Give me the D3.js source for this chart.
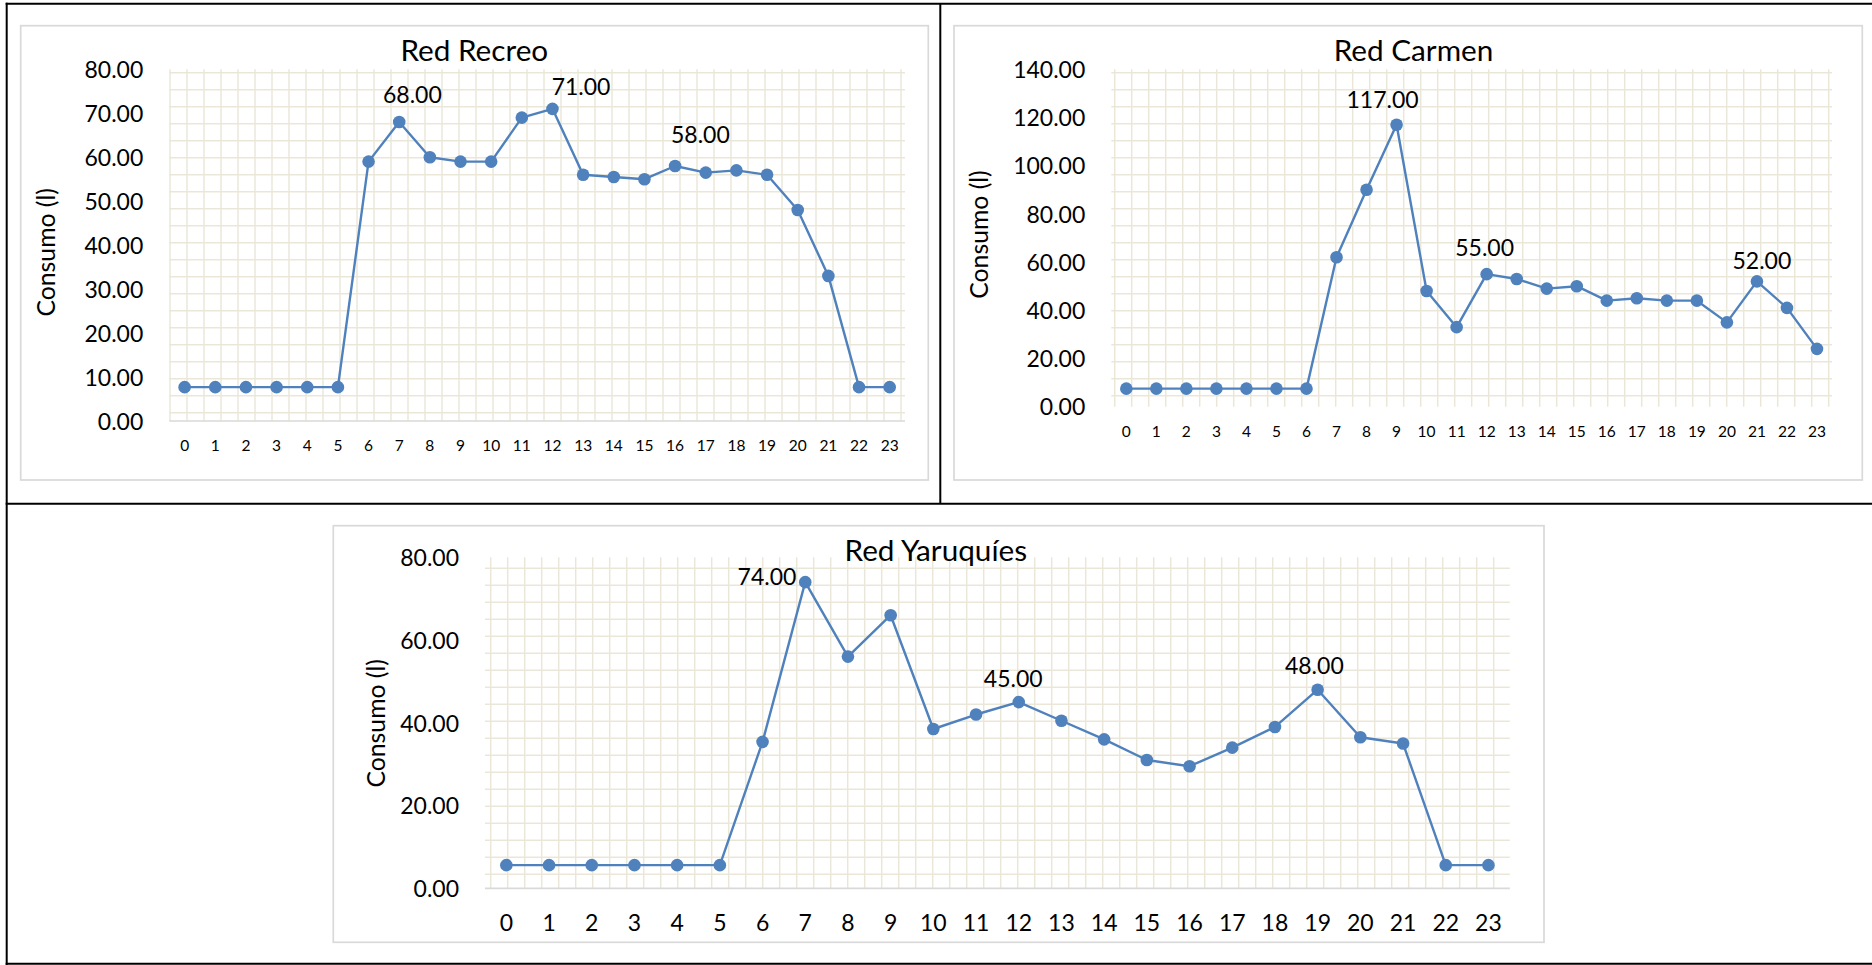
<!DOCTYPE html>
<html>
<head>
<meta charset="utf-8">
<script src="https://cdn.jsdelivr.net/npm/d3@7"></script>
<style>
  html, body { margin: 0; padding: 0; background: #fff; }
  svg { display: block; }
</style>
</head>
<body>
<svg id="page" width="1872" height="965"></svg>
<script>
// Hour of the day (categories shared by the three networks)
const hours = ["0","1","2","3","4","5","6","7","8","9","10","11","12","13","14","15","16","17","18","19","20","21","22","23"];

// Hourly consumption (l) per network
const recreoValues = [7.7,7.7,7.7,7.7,7.7,7.7,59,68,60,59,59,69,71,56,55.5,55,58,56.5,57,56,48,33,7.7,7.7];
const carmenValues = [7.5,7.5,7.5,7.5,7.5,7.5,7.5,62,90,117,48,33,55,53,49,50,44,45,44,44,35,52,41,24];
const yaruquiesValues = [5.6,5.6,5.6,5.6,5.6,5.6,35.4,74,56,66,38.5,42,45,40.5,36,31,29.5,34,39,48,36.5,35,5.6,5.6];

// Value-axis ticks
const recreoTicks = [0,10,20,30,40,50,60,70,80];
const carmenTicks = [0,20,40,60,80,100,120,140];
const yaruquiesTicks = [0,20,40,60,80];

// Hours whose value is printed above the point
const recreoLabelled = [7, 12, 16];
const carmenLabelled = [9, 12, 21];
const yaruquiesLabelled = [7, 12, 19];

const chartTitles = ["Red Recreo", "Red Carmen", "Red Yaruquíes"];
const yTitle = "Consumo (l)";

// ---------- layout / styling ----------
const FONT = "Lato, 'Open Sans', sans-serif";
const LINE = "#4f81bd";
const GRID = "#ebe7d8";
const GRID_STEP = 17;
const Y_TITLE_LENGTH = 128.5;   // rotated axis title is sized to this length

const charts = [
  {
    title: chartTitles[0], values: recreoValues, ticks: recreoTicks, labelled: recreoLabelled,
    box: [20.7, 25.7, 928.3, 480],
    plot: { x0: 169.3, x1: 905, y0: 69.3, y1: 421 },
    grid: { dx: 0.7, dy: 3.4 },
    baseline: true,
    titleAt: [474.3, 60.7],
    yTitleAt: [46.7, 252.3],
    xFont: 15.5, xLabelY: 29.7,
    labelOffsets: [[13.2, -18.7], [28.6, -14.3], [25.3, -22.7]]
  },
  {
    title: chartTitles[1], values: carmenValues, ticks: carmenTicks, labelled: carmenLabelled,
    box: [954, 25.7, 1862.3, 480],
    plot: { x0: 1111.3, x1: 1832, y0: 69.3, y1: 406.7 },
    grid: { dx: 3.4, dy: 3.4 },
    baseline: false,
    titleAt: [1413.5, 60.7],
    yTitleAt: [979, 234.5],
    xFont: 15.5, xLabelY: 30,
    labelOffsets: [[-14, -17], [-2, -18], [5, -12]]
  },
  {
    title: chartTitles[2], values: yaruquiesValues, ticks: yaruquiesTicks, labelled: yaruquiesLabelled,
    box: [333.3, 525.7, 1544, 942.3],
    plot: { x0: 485, x1: 1509.8, y0: 557.3, y1: 888.3 },
    grid: { dx: 5.7, dy: 11 },
    baseline: true,
    titleAt: [935.8, 560.7],
    yTitleAt: [376.7, 723.3],
    xFont: 23, xLabelY: 42.4,
    labelOffsets: [[-38.3, 2.7], [-5.5, -15.6], [-3.3, -16]]
  }
];

const svg = d3.select("#page");

// Table frame around the three charts
const frame = svg.append("g").attr("stroke", "#000").attr("stroke-width", 2).attr("fill", "none");
frame.append("line").attr("x1", 5.7).attr("x2", 1872).attr("y1", 3.7).attr("y2", 3.7);
frame.append("line").attr("x1", 6.7).attr("x2", 6.7).attr("y1", 2.7).attr("y2", 965);
frame.append("line").attr("x1", 940.3).attr("x2", 940.3).attr("y1", 3.7).attr("y2", 503.8);
frame.append("line").attr("x1", 5.7).attr("x2", 1872).attr("y1", 503.8).attr("y2", 503.8);
frame.append("line").attr("x1", 5.7).attr("x2", 1872).attr("y1", 963.8).attr("y2", 963.8);

function drawChart(cfg) {
  const g = svg.append("g");
  const [bx0, by0, bx1, by1] = cfg.box;
  const p = cfg.plot;

  // chart area
  g.append("rect")
    .attr("x", bx0).attr("y", by0).attr("width", bx1 - bx0).attr("height", by1 - by0)
    .attr("fill", "#fff").attr("stroke", "#d9d9d9").attr("stroke-width", 1.7);

  const x = d3.scaleBand().domain(hours).range([p.x0, p.x1]);
  const y = d3.scaleLinear().domain([0, d3.max(cfg.ticks)]).range([p.y1, p.y0]);
  const cx = i => x(hours[i]) + x.bandwidth() / 2;

  // grid-paper texture of the plot area
  const grid = g.append("g").attr("stroke", GRID).attr("stroke-width", 1.5);
  grid.selectAll("line.v").data(d3.range(p.x0 + cfg.grid.dx, p.x1, GRID_STEP)).join("line")
    .attr("class", "v").attr("x1", d => d).attr("x2", d => d).attr("y1", p.y0).attr("y2", p.y1);
  grid.selectAll("line.h").data(d3.range(p.y0 + cfg.grid.dy, p.y1, GRID_STEP)).join("line")
    .attr("class", "h").attr("x1", p.x0).attr("x2", p.x1).attr("y1", d => d).attr("y2", d => d);

  if (cfg.baseline) {
    g.append("line").attr("x1", p.x0).attr("x2", p.x1).attr("y1", y(0)).attr("y2", y(0))
      .attr("stroke", "#d9d9d9").attr("stroke-width", 1.7);
  }

  // value axis
  const ya = g.append("g").attr("transform", `translate(${p.x0},0)`)
    .call(d3.axisLeft(y).tickValues(cfg.ticks).tickSize(0).tickPadding(26).tickFormat(d3.format(".2f")));
  ya.select(".domain").remove();
  ya.attr("font-family", FONT).attr("font-size", 23);
  ya.selectAll("text").attr("dy", "0.36em").attr("fill", "#000");

  // hour axis
  const xa = g.append("g").attr("transform", `translate(0,${p.y1})`)
    .call(d3.axisBottom(x).tickSize(0));
  xa.select(".domain").remove();
  xa.attr("font-family", FONT).attr("font-size", cfg.xFont);
  xa.selectAll("text").attr("y", cfg.xLabelY).attr("dy", 0).attr("fill", "#000");

  // axis title, scaled to its target length
  const yt = g.append("text")
    .attr("transform", `translate(${cfg.yTitleAt[0]},${cfg.yTitleAt[1]}) rotate(-90)`)
    .attr("text-anchor", "middle").attr("dy", "0.35em")
    .attr("font-family", FONT).attr("font-size", 24).attr("fill", "#000")
    .text(yTitle);
  const len = yt.node().getComputedTextLength();
  if (len > 0) yt.attr("font-size", 24 * Y_TITLE_LENGTH / len);

  // chart title
  g.append("text")
    .attr("x", cfg.titleAt[0]).attr("y", cfg.titleAt[1])
    .attr("text-anchor", "middle")
    .attr("font-family", FONT).attr("font-size", 29.7).attr("fill", "#000")
    .text(cfg.title);

  // series line and markers
  const line = d3.line().x((d, i) => cx(i)).y(d => y(d));
  g.append("path").datum(cfg.values)
    .attr("d", line).attr("fill", "none").attr("stroke", LINE)
    .attr("stroke-width", 2.4).attr("stroke-linejoin", "round");
  g.selectAll("circle.pt").data(cfg.values).join("circle")
    .attr("class", "pt")
    .attr("cx", (d, i) => cx(i)).attr("cy", d => y(d)).attr("r", 6.3)
    .attr("fill", LINE);

  // value labels
  g.selectAll("text.val").data(cfg.labelled).join("text")
    .attr("class", "val")
    .attr("x", (d, k) => cx(d) + cfg.labelOffsets[k][0])
    .attr("y", (d, k) => y(cfg.values[d]) + cfg.labelOffsets[k][1])
    .attr("text-anchor", "middle")
    .attr("font-family", FONT).attr("font-size", 23).attr("fill", "#000")
    .text(d => d3.format(".2f")(cfg.values[d]));
}

charts.forEach(drawChart);
</script>
</body>
</html>
